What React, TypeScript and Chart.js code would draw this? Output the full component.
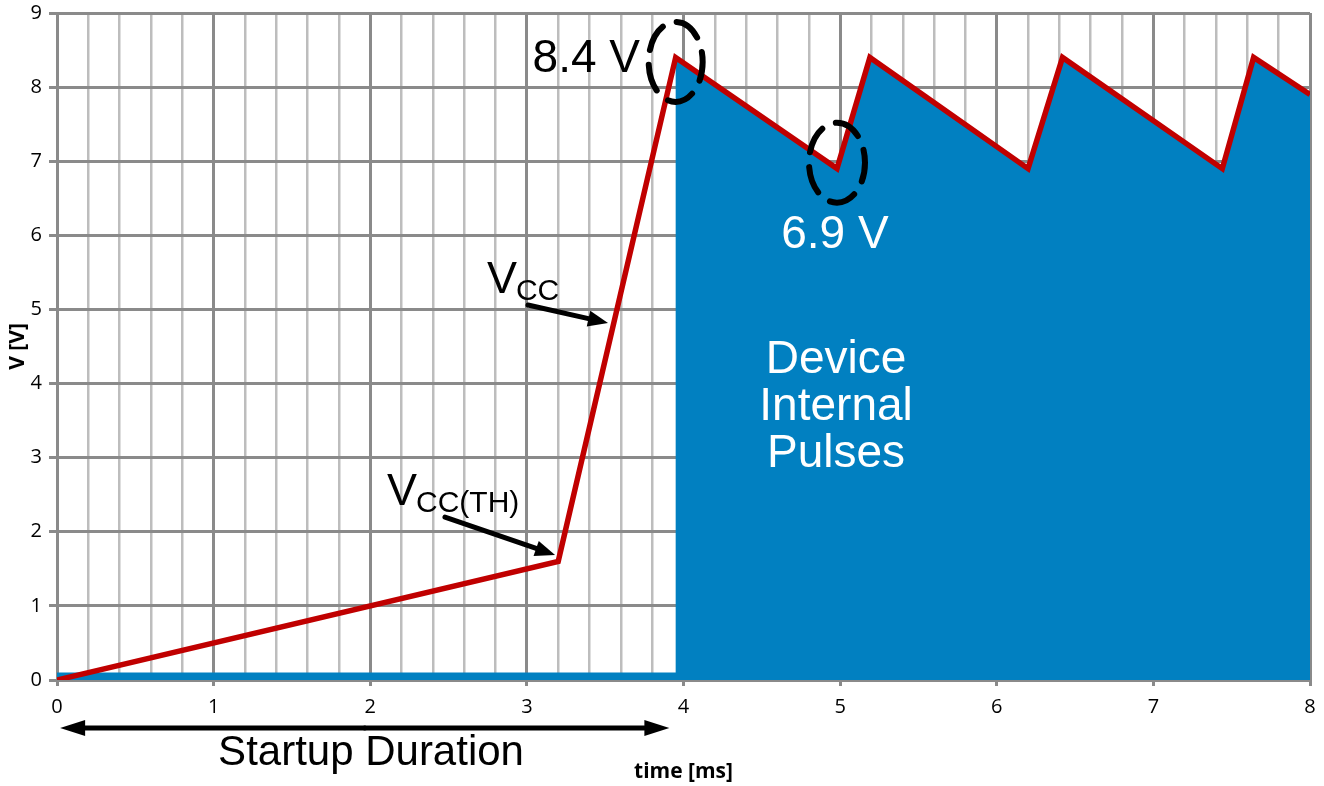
import React, { useEffect, useRef } from 'react';
import { Chart, registerables } from 'chart.js';

Chart.register(...registerables);

// ---- Data ----
const timeMs = [0, 3.2, 3.95, 4.98, 5.19, 6.2, 6.42, 7.44, 7.64, 8];
const vccVolts = [0, 1.6, 8.4, 6.9, 8.4, 6.9, 8.4, 6.9, 8.4, 7.9];
const pulseStartIndex = 2; // device internal pulses begin at the first 8.4 V peak
const baselineStripVolts = 0.1;
const xMin = 0;
const xMax = 8;
const yMin = 0;
const yMax = 9;
const xTitle = 'time [ms]';
const yTitle = 'V [V]';

const RED = '#C00000';
const BLUE = '#0180C1';
const MAJOR = '#8a8a8a';
const MINOR = '#bdbdbd';
const ANN_FONT = '"Liberation Sans", Arial, sans-serif';
const AXIS_FONT = '"Open Sans", "Noto Sans", sans-serif';

const isMajor = (v: number) => Math.abs(v - Math.round(v)) < 1e-6;

function arrow(ctx: CanvasRenderingContext2D, x1: number, y1: number, x2: number, y2: number, headLen: number, headHalf: number, lw: number) {
  const ang = Math.atan2(y2 - y1, x2 - x1);
  const bx = x2 - headLen * Math.cos(ang);
  const by = y2 - headLen * Math.sin(ang);
  ctx.lineWidth = lw;
  ctx.lineCap = 'round';
  ctx.beginPath();
  ctx.moveTo(x1, y1);
  ctx.lineTo(bx, by);
  ctx.stroke();
  ctx.beginPath();
  ctx.moveTo(x2, y2);
  ctx.lineTo(bx + headHalf * Math.sin(ang), by - headHalf * Math.cos(ang));
  ctx.lineTo(bx - headHalf * Math.sin(ang), by + headHalf * Math.cos(ang));
  ctx.closePath();
  ctx.fill();
}

function subText(ctx: CanvasRenderingContext2D, x: number, y: number, main: string, sub: string, color: string) {
  ctx.fillStyle = color;
  ctx.textAlign = 'left';
  ctx.textBaseline = 'alphabetic';
  ctx.font = `45px ${ANN_FONT}`;
  ctx.fillText(main, x, y);
  const w = ctx.measureText(main).width;
  ctx.font = `30px ${ANN_FONT}`;
  ctx.fillText(sub, x + w - 1, y + 7);
}

function dashedEllipse(ctx: CanvasRenderingContext2D, cx: number, cy: number, rx: number, ry: number) {
  ctx.save();
  ctx.strokeStyle = '#000';
  ctx.lineWidth = 6;
  ctx.lineCap = 'round';
  ctx.setLineDash([27, 15]);
  ctx.lineDashOffset = 8;
  ctx.beginPath();
  ctx.ellipse(cx, cy, rx, ry, 0, 0, Math.PI * 2);
  ctx.stroke();
  ctx.restore();
}

const annotationPlugin = {
  id: 'vccAnnotations',
  afterDraw(chart: any) {
    const { ctx, scales } = chart;
    const px = (v: number) => scales.x.getPixelForValue(v);
    const py = (v: number) => scales.y.getPixelForValue(v);
    ctx.save();

    // dashed ellipses around the peak and the trough
    dashedEllipse(ctx, px(timeMs[2]), py(8.34), 27, 40);
    dashedEllipse(ctx, px(timeMs[3]), py(6.98), 28, 40);

    // value labels
    ctx.font = `46px ${ANN_FONT}`;
    ctx.textBaseline = 'alphabetic';
    ctx.fillStyle = '#000';
    ctx.textAlign = 'right';
    ctx.fillText('8.4 V', px(3.722), py(8.204));
    ctx.fillStyle = '#fff';
    ctx.textAlign = 'center';
    ctx.fillText('6.9 V', px(4.967), py(5.829));

    // Device Internal Pulses
    ctx.fillText('Device', px(4.974), py(4.142));
    ctx.fillText('Internal', px(4.974), py(3.508));
    ctx.fillText('Pulses', px(4.974), py(2.874));

    // VCC labels with arrows
    subText(ctx, px(2.745), py(5.22), 'V', 'CC', '#000');
    subText(ctx, px(2.107), py(2.361), 'V', 'CC(TH)', '#000');
    ctx.fillStyle = '#000';
    ctx.strokeStyle = '#000';
    arrow(ctx, px(3.007), py(5.06), px(3.518), py(4.817), 20, 8, 5);
    arrow(ctx, px(2.477), py(2.199), px(3.18), py(1.687), 20, 8, 5);

    // Startup duration double arrow
    const ay = py(-0.648);
    const ax1 = px(0.02);
    const ax2 = px(3.91);
    const mid = (ax1 + ax2) / 2;
    arrow(ctx, mid, ay, ax1, ay, 25, 8, 5);
    arrow(ctx, mid, ay, ax2, ay, 25, 8, 5);
    ctx.font = `42px ${ANN_FONT}`;
    ctx.textAlign = 'center';
    ctx.fillText('Startup Duration', px(2.005), py(-1.147));

    ctx.restore();
  },
};

export default function App() {
  const canvasRef = useRef<HTMLCanvasElement | null>(null);

  useEffect(() => {
    if (!canvasRef.current) return;
    const vccPoints = timeMs.map((t, i) => ({ x: t, y: vccVolts[i] }));
    const fillPoints = [
      { x: timeMs[0], y: baselineStripVolts },
      { x: timeMs[pulseStartIndex], y: baselineStripVolts },
      ...vccPoints.slice(pulseStartIndex),
    ];

    const chart = new Chart(canvasRef.current, {
      type: 'line',
      data: {
        datasets: [
          {
            label: 'VCC',
            data: vccPoints,
            borderColor: RED,
            borderWidth: 5.5,
            pointRadius: 0,
            fill: false,
            tension: 0,
            borderJoinStyle: 'miter',
            order: 0,
          },
          {
            label: 'Device Internal Pulses',
            data: fillPoints,
            borderWidth: 0,
            borderColor: 'rgba(0,0,0,0)',
            backgroundColor: BLUE,
            pointRadius: 0,
            fill: 'origin',
            tension: 0,
            order: 1,
          },
        ],
      },
      options: {
        animation: false,
        responsive: true,
        maintainAspectRatio: false,
        devicePixelRatio: 1,
        layout: { padding: { left: 0, right: 14, top: 13, bottom: 0 } },
        plugins: { legend: { display: false }, tooltip: { enabled: false } },
        scales: {
          x: {
            type: 'linear',
            min: xMin,
            max: xMax,
            afterFit: (s: any) => { s.height = 106; s.paddingLeft = 0; s.paddingRight = 0; },
            border: { display: false },
            grid: {
              color: (c: any) => (isMajor(c.tick.value) ? MAJOR : MINOR),
              tickColor: (c: any) => (isMajor(c.tick.value) ? MAJOR : 'rgba(0,0,0,0)'),
              lineWidth: (c: any) => (isMajor(c.tick.value) ? 3 : 2.5),
              tickLength: 6,
            },
            ticks: {
              stepSize: 0.2,
              autoSkip: false,
              maxRotation: 0,
              padding: 9,
              color: '#000',
              font: { family: AXIS_FONT, size: 20 },
              callback: (v: any) => (isMajor(Number(v)) ? String(Math.round(Number(v))) : ''),
            },
            title: {
              display: true,
              text: xTitle,
              color: '#000',
              font: { family: AXIS_FONT, size: 21, weight: 'bold' },
              padding: { top: 0, bottom: 1 },
            },
          },
          y: {
            type: 'linear',
            min: yMin,
            max: yMax,
            afterFit: (s: any) => { s.width = 57; s.paddingTop = 0; s.paddingBottom = 0; },
            border: { display: false },
            grid: { color: MAJOR, tickColor: MAJOR, lineWidth: 3, tickLength: 8 },
            ticks: {
              stepSize: 1,
              padding: 7,
              color: '#000',
              font: { family: AXIS_FONT, size: 20 },
            },
            title: {
              display: true,
              text: yTitle,
              color: '#000',
              font: { family: AXIS_FONT, size: 21, weight: 'bold' },
              padding: { top: 5, bottom: 0 },
            },
          },
        },
      },
      plugins: [annotationPlugin],
    });
    return () => chart.destroy();
  }, []);

  return (
    <div style={{ position: 'absolute', left: 0, top: 0, width: 1324, height: 786, background: '#fff' }}>
      <canvas ref={canvasRef} />
    </div>
  );
}
